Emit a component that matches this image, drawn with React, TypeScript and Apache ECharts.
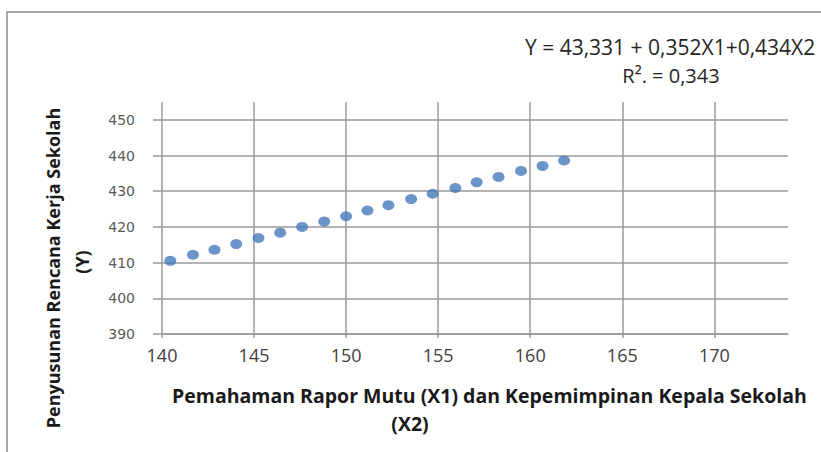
import React, { useEffect, useRef } from "react";
import * as echarts from "echarts";

const xValues = [140.45, 141.68, 142.85, 144.03, 145.24, 146.42, 147.61, 148.81, 150.0, 151.16, 152.3, 153.53, 154.7, 155.93, 157.09, 158.28, 159.5, 160.67, 161.84];
const yValues = [410.5, 412.2, 413.6, 415.2, 416.9, 418.4, 420.0, 421.5, 423.0, 424.6, 426.1, 427.8, 429.3, 430.9, 432.5, 434.0, 435.7, 437.1, 438.6];

const xTitle1 = "Pemahaman Rapor Mutu (X1) dan Kepemimpinan Kepala Sekolah";
const xTitle2 = "(X2)";
const yTitle1 = "Penyusunan Rencana Kerja Sekolah";
const yTitle2 = "(Y)";
const equation = "Y = 43,331 + 0,352X1+0,434X2";
const rSquared = "R². = 0,343";

export default function App() {
  const ref = useRef<HTMLDivElement>(null);
  useEffect(() => {
    if (!ref.current) return;
    const chart = echarts.init(ref.current, null, { renderer: "svg" });
    const points = xValues.map((x, i) => [x, yValues[i]]);
    chart.setOption({
      animation: false,
      backgroundColor: "#ffffff",
      grid: { left: 162, right: 33, top: 102, bottom: 118 },
      xAxis: {
        type: "value",
        min: 140,
        max: 174,
        interval: 5,
        axisLine: { show: true, lineStyle: { color: "#9a9a9a", width: 1.5 } },
        axisTick: { show: true, length: 4, lineStyle: { color: "#9a9a9a", width: 1.5 } },
        axisLabel: {
          margin: 12,
          fontSize: 18,
          fontFamily: "Open Sans",
          color: "#404040",
          showMaxLabel: false,
        },
        splitLine: { show: true, showMaxLine: false, lineStyle: { color: "#9a9a9a", width: 1.5 } },
      },
      yAxis: {
        type: "value",
        min: 390,
        max: 455,
        interval: 10,
        axisLine: { show: false },
        axisTick: { show: true, length: 9, lineStyle: { color: "#9a9a9a", width: 1.5 } },
        axisLabel: {
          margin: 27,
          fontSize: 14,
          fontFamily: "DejaVu Sans",
          color: "#595959",
          showMaxLabel: false,
        },
        splitLine: { show: true, showMaxLine: false, lineStyle: { color: "#9a9a9a", width: 1.5 } },
      },
      series: [
        {
          type: "scatter",
          data: points,
          symbol: "circle",
          symbolSize: [12, 10],
          itemStyle: { color: "#4679bb" },
        },
      ],
      graphic: [
        {
          type: "rect",
          shape: { x: 7, y: 12, width: 900, height: 500 },
          style: { fill: "none", stroke: "#8c8c8c", lineWidth: 1.5 },
          silent: true,
        },
        {
          type: "text",
          x: 525,
          y: 47,
          style: {
            text: equation,
            fontFamily: "Open Sans",
            fontSize: 21,
            fill: "#262626",
            textAlign: "left",
            textVerticalAlign: "middle",
          },
        },
        {
          type: "text",
          x: 671,
          y: 75,
          style: {
            text: rSquared,
            fontFamily: "Open Sans",
            fontSize: 20,
            fill: "#262626",
            textAlign: "center",
            textVerticalAlign: "middle",
          },
        },
        {
          type: "text",
          x: 53,
          y: 268,
          rotation: Math.PI / 2,
          style: {
            text: yTitle1,
            fontFamily: "Open Sans",
            fontWeight: "bold",
            fontSize: 18,
            fill: "#1a1a1a",
            textAlign: "center",
            textVerticalAlign: "middle",
          },
        },
        {
          type: "text",
          x: 82,
          y: 262,
          rotation: Math.PI / 2,
          style: {
            text: yTitle2,
            fontFamily: "Open Sans",
            fontWeight: "bold",
            fontSize: 18,
            fill: "#1a1a1a",
            textAlign: "center",
            textVerticalAlign: "middle",
          },
        },
        {
          type: "text",
          x: 172,
          y: 395,
          style: {
            text: xTitle1,
            fontFamily: "Open Sans",
            fontWeight: "bold",
            fontSize: 19.5,
            fill: "#1a1a1a",
            textAlign: "left",
            textVerticalAlign: "middle",
          },
        },
        {
          type: "text",
          x: 410,
          y: 423,
          style: {
            text: xTitle2,
            fontFamily: "Open Sans",
            fontWeight: "bold",
            fontSize: 19.5,
            fill: "#1a1a1a",
            textAlign: "center",
            textVerticalAlign: "middle",
          },
        },
      ],
    });
    return () => chart.dispose();
  }, []);
  return (
    <div
      ref={ref}
      style={{ position: "fixed", left: 0, top: 0, width: 821, height: 452 }}
    />
  );
}
